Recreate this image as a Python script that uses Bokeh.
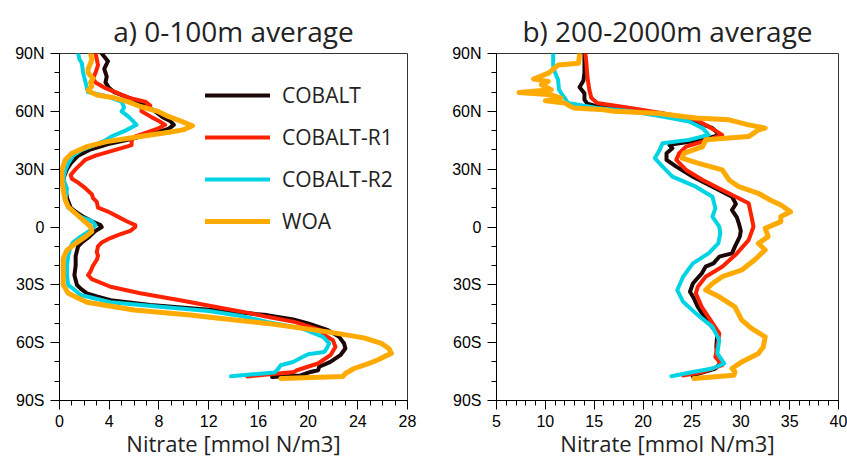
from bokeh.plotting import figure
from bokeh.layouts import row
from bokeh.models import FixedTicker, Legend, LegendItem, Range1d
from bokeh.embed import file_html
from bokeh.resources import INLINE

# ---------------- data ----------------
TITLES = ["a) 0-100m average", "b) 200-2000m average"]
XLABEL = "Nitrate [mmol N/m3]"
SERIES = ["COBALT", "COBALT-R1", "COBALT-R2", "WOA"]
COLORS = ["#1c0606", "#ff2200", "#00d4e4", "#ffaa00"]

LAT_TICKS = [-90, -60, -30, 0, 30, 60, 90]
LAT_LABELS = ["90S", "60S", "30S", "0", "30N", "60N", "90N"]
LAT_MINOR = list(range(-90, 91, 10))
A_XTICKS = [0, 4, 8, 12, 16, 20, 24, 28]
A_XMINOR = list(range(0, 29))
B_XTICKS = [5, 10, 15, 20, 25, 30, 35, 40]
B_XMINOR = list(range(5, 41))

# panel a: 0-100m
a_cobalt_lat = [90, 86, 82, 78, 75, 72, 70, 67, 65, 63, 60, 57, 55, 53, 51, 49, 47, 45, 43, 42, 40, 37, 33, 30, 25, 20, 15, 10, 7, 5, 3, 1, 0, -2, -5, -8, -10, -15, -20, -25, -30, -32, -34.4, -36, -38, -40.5, -42.5, -43.5, -45.7, -48, -50, -53.5, -57, -60.4, -63, -66.5, -70, -72.5, -74.3, -75.2, -77, -77.8]
a_cobalt = [3.4, 3.9, 3.6, 3.8, 3.7, 4.0, 4.4, 5.6, 6.3, 6.9, 7.7, 8.3, 8.9, 9.2, 8.8, 7.8, 6.6, 5.3, 3.9, 3.4, 2.4, 1.5, 0.9, 0.6, 0.3, 0.5, 0.6, 0.9, 1.5, 2.0, 2.6, 3.3, 3.4, 2.9, 2.4, 1.8, 1.5, 1.3, 1.3, 1.2, 1.4, 1.7, 2.2, 3.0, 4.1, 7.3, 11.3, 13.0, 16.7, 18.8, 20.0, 21.6, 22.5, 22.9, 23.0, 22.6, 21.8, 20.9, 20.8, 20.2, 19.4, 17.1]

a_r1_lat = [90, 87, 84, 80, 77, 75, 72, 70, 67, 65, 63, 62, 60, 57, 55, 53, 51, 49, 47, 45, 42.5, 40, 37, 35, 30, 27, 25, 23, 20, 17, 15, 13, 10, 8, 5, 3, 1, 0, -2, -4, -6, -8, -10, -13, -15, -17, -20, -23, -25, -27, -31, -34.4, -38, -41.4, -44.8, -46.6, -49.2, -53.5, -56, -58.7, -62.2, -66.5, -70.8, -74.3, -75.2, -77.5]
a_r1 = [2.9, 3.0, 3.1, 2.9, 2.7, 2.9, 3.7, 4.5, 5.6, 6.9, 7.3, 6.6, 6.6, 7.4, 8.0, 8.5, 7.9, 7.0, 6.1, 5.8, 5.8, 4.5, 2.9, 2.1, 1.3, 0.9, 1.0, 1.5, 2.1, 2.6, 2.7, 3.0, 3.1, 3.9, 4.8, 5.4, 6.1, 6.1, 5.7, 4.8, 4.0, 3.4, 3.1, 3.0, 3.1, 3.0, 2.7, 2.5, 2.3, 2.6, 4.1, 6.5, 9.7, 12.5, 15.4, 16.7, 18.9, 21.0, 21.3, 22.0, 22.2, 21.8, 20.8, 19.1, 18.9, 15.1]

a_r2_lat = [90, 87, 85, 80, 75, 72, 70, 68, 65, 62, 60, 57, 53, 50, 47, 45, 42, 40, 37, 33, 30, 25, 20, 15, 12, 10, 7, 5, 3, 1, -1, -3, -5, -8, -10, -15, -20, -25, -30, -33.6, -35.3, -39, -41.4, -43.6, -46, -49.2, -52.6, -55.2, -57, -60.4, -63, -64.8, -66, -68, -70, -71.7, -74.3, -75.5, -77.4]
a_r2 = [1.5, 1.6, 1.8, 1.9, 2.1, 2.2, 2.3, 3.7, 5.0, 5.2, 5.0, 5.6, 6.2, 5.3, 4.2, 3.7, 2.6, 1.8, 1.1, 0.7, 0.5, 0.3, 0.6, 0.5, 0.6, 0.7, 1.3, 1.8, 2.6, 2.9, 2.6, 2.2, 1.7, 1.1, 0.9, 0.7, 0.6, 0.6, 0.7, 1.4, 1.7, 4.1, 8.1, 12.0, 14.5, 16.7, 19.5, 20.5, 21.2, 21.7, 21.5, 21.3, 20.0, 19.4, 18.8, 17.8, 17.5, 17.3, 13.8]

a_woa_lat = [90, 87, 85, 82, 80, 77, 75, 73, 71, 70, 68.5, 67, 65, 62.5, 60, 57.5, 55.6, 52.5, 50.5, 49.5, 46.9, 44.3, 41.7, 38.3, 34.8, 29.6, 24.4, 19.2, 14, 10.5, 7, 3.6, 0.2, -2.4, -5, -8.5, -12, -16.3, -20, -24, -30, -34.4, -39, -43.1, -45.7, -47.5, -50, -54.4, -57.5, -60.4, -63, -65.6, -67, -69, -71, -73.4, -76, -77.5, -78.6]
a_woa = [2.5, 2.6, 2.5, 2.3, 2.3, 2.7, 2.5, 2.6, 2.3, 2.5, 3.0, 4.4, 5.5, 6.5, 7.9, 8.7, 9.5, 10.7, 10.0, 9.2, 6.5, 3.8, 2.2, 1.0, 0.46, 0.2, 0.2, 0.3, 0.46, 0.7, 1.3, 1.9, 2.5, 2.6, 2.1, 1.3, 0.6, 0.3, 0.3, 0.3, 0.3, 0.7, 2.2, 6.0, 10.5, 13.0, 16.7, 21.6, 24.5, 25.9, 26.5, 26.7, 26.2, 25.6, 24.8, 23.7, 23.0, 22.8, 17.8]

# panel b: 200-2000m
b_cobalt_lat = [90, 85, 80, 76, 72.5, 69.4, 66, 64, 62.5, 60.8, 58.2, 54.7, 51.3, 47.8, 45.2, 42.6, 40.9, 38.3, 34.8, 31.3, 26.1, 20.9, 15.7, 12, 8.8, 5, 1.9, -2, -5, -10.2, -13.7, -15.4, -18.9, -20.6, -24.1, -27.5, -29.3, -33.6, -37, -41.4, -48.3, -55.2, -62.2, -67.4, -70.8, -73.4, -76, -77.6]
b_cobalt = [14.0, 14.0, 14.0, 13.9, 13.5, 14.0, 14.0, 14.3, 15.3, 18.7, 22.0, 25.4, 27.1, 27.8, 26.1, 22.7, 23.0, 22.4, 22.4, 23.4, 25.1, 27.1, 29.1, 29.5, 29.1, 29.6, 29.8, 30.0, 29.9, 29.4, 29.1, 27.8, 27.2, 26.4, 26.0, 25.4, 25.1, 24.8, 25.2, 25.6, 26.5, 27.6, 27.5, 27.6, 27.9, 27.4, 25.7, 25.1]

b_r1_lat = [90, 85, 78, 71.2, 67, 64.3, 61.7, 59, 55.6, 52.1, 47.8, 45.2, 41.7, 38.3, 34.8, 29.6, 24.4, 19.2, 12.3, 5.4, 0.2, -6.8, -13.7, -20.6, -25.8, -31, -34.4, -41.4, -48.3, -55.2, -62.2, -67.4, -71.7, -75.2, -77]
b_r1 = [14.1, 14.2, 14.3, 14.5, 14.7, 15.3, 18.7, 22.0, 25.4, 26.7, 28.1, 26.7, 24.4, 23.7, 23.4, 24.4, 26.1, 28.1, 30.8, 31.1, 31.3, 30.8, 29.6, 28.1, 26.4, 25.6, 25.4, 26.0, 26.9, 27.8, 27.6, 27.4, 28.1, 26.1, 24.1]

b_r2_lat = [90, 83.3, 80, 76.4, 71.2, 68, 66.9, 64.3, 61.7, 60, 57.3, 54.7, 51.3, 47.8, 45.2, 43.5, 40, 35.7, 31.3, 26.1, 20.9, 15.7, 9.7, 5.4, 0.2, -3.3, -8.5, -13.7, -18.9, -25.8, -32.7, -38.8, -44.8, -51.8, -58.7, -65.6, -70.8, -73.4, -75.2, -77.4]
b_r2 = [10.8, 10.8, 11.0, 11.3, 11.4, 11.8, 12.0, 12.3, 15.3, 18.7, 22.0, 24.7, 26.1, 26.7, 24.7, 22.0, 21.7, 21.2, 22.0, 23.0, 25.4, 27.1, 27.4, 27.1, 27.8, 27.9, 27.7, 26.7, 25.1, 24.1, 23.5, 24.1, 25.4, 27.1, 27.8, 27.6, 28.3, 27.1, 25.1, 22.9]

b_woa_lat = [90, 85, 84, 81, 79.8, 76.7, 75.5, 73.8, 71.2, 69.8, 68.6, 66.9, 65.5, 64.3, 62.5, 61.7, 60.8, 60, 59, 56.5, 55.6, 53, 51.3, 50.4, 46.9, 45.2, 41.7, 38.3, 35.7, 33.1, 29.6, 24.4, 20.9, 17.5, 14, 11.4, 7.9, 5.4, 2.8, -0.7, -5, -8.5, -11.9, -17.1, -22.3, -25.8, -29.3, -32.7, -36.2, -41.4, -48.3, -52.6, -57, -62.2, -65.6, -70, -73.4, -75.2, -76.9, -78.6]
b_woa = [13.5, 13.4, 11.3, 10.6, 10.3, 8.8, 10.3, 9.6, 10.6, 7.3, 10.6, 11.6, 10.0, 12.0, 12.6, 13.0, 16.0, 17.0, 21.4, 25.4, 28.8, 30.8, 32.5, 31.8, 30.8, 26.4, 26.1, 24.2, 24.0, 25.6, 28.1, 28.8, 29.8, 31.8, 33.0, 34.1, 35.1, 34.1, 34.1, 32.5, 32.8, 31.8, 32.5, 31.4, 30.1, 28.1, 27.1, 26.4, 27.8, 29.4, 30.1, 31.1, 32.5, 32.3, 31.8, 30.1, 29.1, 29.4, 29.3, 25.2]

PANEL_A = [(a_cobalt, a_cobalt_lat), (a_r1, a_r1_lat), (a_r2, a_r2_lat), (a_woa, a_woa_lat)]
PANEL_B = [(b_cobalt, b_cobalt_lat), (b_r1, b_r1_lat), (b_r2, b_r2_lat), (b_woa, b_woa_lat)]

TXT = "#222222"


def make_panel(title, xr, xticks, xminor, series, width, bl, br, legend=False):
    p = figure(width=width, height=461, output_backend="svg", toolbar_location=None,
               x_range=Range1d(*xr), y_range=Range1d(-90, 90),
               min_border_left=bl, min_border_right=br, min_border_top=53, min_border_bottom=61,
               title=title)
    p.title.text_font = "Open Sans"
    p.title.text_font_size = "28px"
    p.title.text_font_style = "normal"
    p.title.text_color = TXT
    p.title.align = "center"
    p.title.standoff = 7
    p.grid.visible = False
    p.outline_line_color = "#333333"
    p.outline_line_width = 1
    p.background_fill_color = "white"
    p.border_fill_color = "white"

    p.xaxis.ticker = FixedTicker(ticks=xticks, minor_ticks=xminor)
    p.yaxis.ticker = FixedTicker(ticks=LAT_TICKS, minor_ticks=LAT_MINOR)
    p.yaxis.major_label_overrides = {t: l for t, l in zip(LAT_TICKS, LAT_LABELS)}
    for ax in (p.xaxis[0], p.yaxis[0]):
        ax.axis_line_color = "black"
        ax.axis_line_width = 1
        ax.major_tick_line_color = "black"
        ax.minor_tick_line_color = "black"
        ax.major_tick_in = 0
        ax.major_tick_out = 9
        ax.minor_tick_in = 0
        ax.minor_tick_out = 5
        ax.major_label_text_font = "Liberation Sans"
        ax.major_label_text_font_size = "16px"
        ax.major_label_text_color = "black"
    p.xaxis.major_label_standoff = 5
    p.yaxis.major_label_standoff = 6

    p.xaxis.axis_label = XLABEL
    p.xaxis.axis_label_text_font = "Open Sans"
    p.xaxis.axis_label_text_font_size = "22px"
    p.xaxis.axis_label_text_font_style = "normal"
    p.xaxis.axis_label_text_color = TXT
    p.xaxis.axis_label_standoff = -2

    items = []
    for (vals, lats), name, col in zip(series, SERIES, COLORS):
        r = p.line(vals, lats, line_color=col, line_width=5 if name == "WOA" else 4,
                   line_join="round", line_cap="round")
        items.append(LegendItem(label=name, renderers=[r]))
    if legend:
        lg = Legend(items=items, location=(146, 158), orientation="vertical",
                    glyph_width=65, glyph_height=42, label_height=42, spacing=0,
                    padding=0, margin=0, label_standoff=12,
                    label_text_font="Open Sans", label_text_font_size="21px",
                    label_text_color=TXT, border_line_color=None,
                    background_fill_alpha=0)
        p.add_layout(lg)
    return p


pa = make_panel(TITLES[0], (0, 28), A_XTICKS, A_XMINOR, PANEL_A, 449, 59, 42, legend=True)
pb = make_panel(TITLES[1], (5, 40), B_XTICKS, B_XMINOR, PANEL_B, 398, 42, 9)

layout = row(pa, pb)
open("out.html", "w").write(file_html(layout, INLINE))
